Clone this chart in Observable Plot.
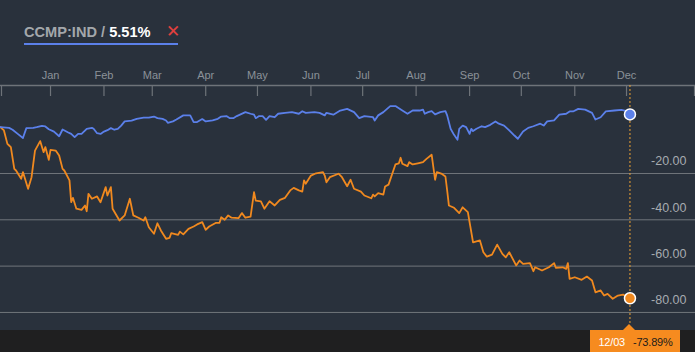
<!DOCTYPE html>
<html>
<head>
<meta charset="utf-8">
<script src="https://cdn.jsdelivr.net/npm/d3@7"></script>
<script src="https://cdn.jsdelivr.net/npm/@observablehq/plot@0.6"></script>
<style>
  html, body { margin: 0; padding: 0; background: #29313c; }
  #wrap { position: relative; width: 695px; height: 352px; background: #29313c; overflow: hidden; font-family: "Liberation Sans", Arial, sans-serif; }
  #band { position: absolute; left: 0; top: 330px; width: 695px; height: 22px; background: #1f1f20; }
  #title { position: absolute; left: 24px; top: 24px; font-size: 14.6px; line-height: 17px; font-weight: bold; white-space: nowrap; }
  #title .sym { color: #a3a7ab; }
  #title .val { color: #ffffff; }
  #title .x { color: #e0403e; font-weight: normal; font-size: 17px; position: absolute; left: 142px; top: -1px; }
  #uline { position: absolute; left: 24px; top: 43px; width: 154px; height: 2px; background: #5b80ea; }
  #chart { position: absolute; left: 0; top: 0; }
  #tip { position: absolute; top: 330px; width: 90px; height: 22px; background: #f68b1f; font-size: 11px; line-height: 24px; white-space: nowrap; letter-spacing: -0.2px; }
  #tip .d { color: #ffffff; margin-left: 8px; }
  #tip .v { color: #1b1b1b; margin-left: 8px; }
  #tri { position: absolute; top: 324px; width: 0; height: 0; border-left: 6px solid transparent; border-right: 6px solid transparent; border-bottom: 6px solid #f68b1f; }
</style>
</head>
<body>
<div id="wrap">
  <div id="band"></div>
  <div id="chart"></div>
  <div id="title"><span class="sym">CCMP:IND / </span><span class="val">5.51%</span><span class="x">✕</span></div>
  <div id="uline"></div>
  <div id="tri"></div>
  <div id="tip"><span class="d">12/03</span><span class="v">-73.89%</span></div>
</div>
<script>
// Percent change since 2014-12-03: NASDAQ Composite (CCMP:IND)
const ccmpSeries = [
  ["2014-12-03",0],["2014-12-08",-0.3],["2014-12-10",-1.1],["2014-12-13",-2.9],["2014-12-16",-4.7],
  ["2014-12-18",-0.4],["2014-12-22",-0.3],["2014-12-24",0],["2014-12-27",0.6],["2014-12-29",0.3],
  ["2014-12-31",-0.9],["2015-01-03",-1.9],["2015-01-06",-3.9],["2015-01-08",-1.0],["2015-01-11",-2.2],
  ["2015-01-13",-2.9],["2015-01-15",-4.3],["2015-01-17",-2.9],["2015-01-19",-2.9],["2015-01-22",-0.7],
  ["2015-01-25",-0.3],["2015-01-26",-0.7],["2015-01-28",-2.6],["2015-01-30",-2.9],["2015-02-01",-1.9],
  ["2015-02-03",-1.3],["2015-02-05",-0.4],["2015-02-07",-1.1],["2015-02-09",-0.7],["2015-02-11",0.7],
  ["2015-02-13",2.5],["2015-02-17",2.8],["2015-02-20",3.6],["2015-02-24",4.1],["2015-02-27",4.1],
  ["2015-03-02",4.6],["2015-03-04",3.9],["2015-03-07",3.6],["2015-03-09",2.9],["2015-03-10",1.9],
  ["2015-03-13",2.5],["2015-03-15",3.3],["2015-03-19",5.1],["2015-03-23",5.1],["2015-03-25",2.2],
  ["2015-03-27",2.2],["2015-03-30",3.5],["2015-04-01",2.5],["2015-04-05",2.9],["2015-04-08",3.6],
  ["2015-04-10",4.6],["2015-04-13",4.8],["2015-04-15",3.9],["2015-04-17",3.9],["2015-04-19",4.8],
  ["2015-04-24",6.5],["2015-04-27",5.8],["2015-04-29",5.4],["2015-04-30",3.9],["2015-05-02",4.8],
  ["2015-05-04",4.8],["2015-05-06",3.2],["2015-05-08",4.8],["2015-05-11",4.3],["2015-05-13",5.8],
  ["2015-05-17",6.2],["2015-05-21",6.5],["2015-05-25",5.8],["2015-05-27",6.9],["2015-05-29",6.2],
  ["2015-06-03",6.5],["2015-06-06",6.2],["2015-06-09",5.1],["2015-06-10",6.2],["2015-06-14",5.4],
  ["2015-06-18",7.2],["2015-06-22",7.9],["2015-06-26",6.5],["2015-06-29",3.9],["2015-07-02",4.8],
  ["2015-07-07",4.3],["2015-07-08",2.9],["2015-07-10",5.1],["2015-07-13",6.5],["2015-07-17",9.1],
  ["2015-07-20",9.1],["2015-07-24",7.2],["2015-07-27",5.8],["2015-07-30",7.2],["2015-08-03",7.2],
  ["2015-08-05",7.6],["2015-08-06",5.8],["2015-08-08",6.5],["2015-08-10",6.9],["2015-08-12",5.5],
  ["2015-08-15",6.5],["2015-08-18",6.9],["2015-08-19",5.1],["2015-08-21",-0.7],["2015-08-23",-3.3],
  ["2015-08-25",-5.4],["2015-08-26",-0.7],["2015-08-28",0.7],["2015-08-30",0],["2015-09-01",-2.9],
  ["2015-09-02",-0.7],["2015-09-03",-1.7],["2015-09-05",-0.7],["2015-09-08",0.4],["2015-09-10",0],
  ["2015-09-13",1.0],["2015-09-16",2.5],["2015-09-18",1.5],["2015-09-21",0.7],["2015-09-24",-1.4],
  ["2015-09-27",-3.6],["2015-09-29",-5.0],["2015-10-02",-1.9],["2015-10-05",-0.3],["2015-10-08",0.4],
  ["2015-10-12",1.5],["2015-10-14",0.7],["2015-10-16",2.5],["2015-10-20",2.9],["2015-10-23",5.4],
  ["2015-10-27",5.8],["2015-10-29",6.8],["2015-10-31",6.8],["2015-11-03",7.9],["2015-11-07",7.6],
  ["2015-11-11",6.2],["2015-11-13",3.3],["2015-11-16",4.3],["2015-11-19",6.8],["2015-11-24",7.2],
  ["2015-11-28",7.5],["2015-11-30",7.2],["2015-12-03",5.51]
];
// Percent change since 2014-12-03: compared stock
const stockSeries = [
  ["2014-12-03",0],["2014-12-05",-1.4],["2014-12-07",-7.2],["2014-12-08",-7.9],["2014-12-09",-8.6],
  ["2014-12-11",-18.0],["2014-12-12",-18.7],["2014-12-15",-22.3],["2014-12-16",-19.4],["2014-12-19",-26.6],
  ["2014-12-21",-21.6],["2014-12-23",-10.1],["2014-12-26",-6.0],["2014-12-28",-10.8],["2014-12-29",-8.6],
  ["2014-12-31",-14.1],["2015-01-01",-9.8],["2015-01-04",-10.1],["2015-01-06",-12.2],["2015-01-08",-18.0],
  ["2015-01-09",-18.7],["2015-01-12",-23.0],["2015-01-13",-32.4],["2015-01-14",-30.5],["2015-01-16",-35.2],
  ["2015-01-19",-35.7],["2015-01-21",-33.8],["2015-01-22",-36.3],["2015-01-23",-28.8],["2015-01-25",-30.9],
  ["2015-01-28",-29.9],["2015-01-30",-32.4],["2015-02-02",-25.9],["2015-02-03",-29.5],["2015-02-05",-25.9],
  ["2015-02-06",-35.2],["2015-02-10",-40.3],["2015-02-13",-38.1],["2015-02-16",-30.9],["2015-02-18",-38.1],
  ["2015-02-21",-39.1],["2015-02-24",-40.3],["2015-02-25",-38.9],["2015-02-27",-43.2],["2015-03-02",-46.0],
  ["2015-03-04",-41.5],["2015-03-06",-44.6],["2015-03-09",-48.2],["2015-03-11",-47.8],["2015-03-12",-45.8],
  ["2015-03-16",-46.5],["2015-03-17",-45.1],["2015-03-19",-46.3],["2015-03-22",-43.9],["2015-03-25",-42.9],
  ["2015-03-27",-42.0],["2015-03-30",-41.0],["2015-04-01",-44.3],["2015-04-03",-42.9],["2015-04-07",-41.3],
  ["2015-04-09",-41.3],["2015-04-10",-38.9],["2015-04-12",-40.0],["2015-04-14",-38.1],["2015-04-16",-39.1],
  ["2015-04-20",-39.3],["2015-04-22",-37.1],["2015-04-24",-39.1],["2015-04-27",-38.6],["2015-04-29",-28.1],
  ["2015-04-30",-31.7],["2015-05-03",-32.0],["2015-05-05",-35.2],["2015-05-08",-32.0],["2015-05-11",-33.8],
  ["2015-05-14",-31.4],["2015-05-17",-30.5],["2015-05-20",-27.3],["2015-05-22",-26.2],["2015-05-25",-27.3],
  ["2015-05-27",-27.8],["2015-05-28",-23.0],["2015-05-29",-24.4],["2015-06-01",-20.9],["2015-06-04",-19.9],
  ["2015-06-08",-19.4],["2015-06-09",-20.9],["2015-06-10",-23.8],["2015-06-12",-21.6],["2015-06-17",-20.1],
  ["2015-06-19",-21.6],["2015-06-22",-25.5],["2015-06-24",-22.7],["2015-06-26",-26.6],["2015-06-30",-27.8],
  ["2015-07-02",-29.5],["2015-07-06",-30.7],["2015-07-07",-29.1],["2015-07-08",-29.9],["2015-07-10",-28.5],
  ["2015-07-13",-29.1],["2015-07-14",-25.6],["2015-07-16",-24.8],["2015-07-20",-16.1],["2015-07-22",-15.6],
  ["2015-07-23",-13.2],["2015-07-24",-15.8],["2015-07-27",-16.8],["2015-07-28",-15.1],["2015-07-30",-16.1],
  ["2015-08-02",-15.6],["2015-08-05",-15.1],["2015-08-07",-13.7],["2015-08-10",-11.9],["2015-08-12",-22.7],
  ["2015-08-13",-19.4],["2015-08-16",-20.2],["2015-08-18",-21.3],["2015-08-19",-27.3],["2015-08-20",-33.8],
  ["2015-08-23",-34.8],["2015-08-26",-37.1],["2015-08-28",-34.6],["2015-08-31",-36.7],["2015-09-03",-49.7],
  ["2015-09-07",-48.9],["2015-09-09",-54.0],["2015-09-11",-55.9],["2015-09-14",-55.0],["2015-09-17",-50.7],
  ["2015-09-20",-54.7],["2015-09-22",-56.2],["2015-09-24",-54.0],["2015-09-28",-59.7],["2015-09-30",-57.6],
  ["2015-10-02",-59.0],["2015-10-06",-58.7],["2015-10-08",-62.2],["2015-10-09",-60.5],["2015-10-13",-61.9],
  ["2015-10-17",-60.5],["2015-10-20",-58.7],["2015-10-21",-60.7],["2015-10-25",-60.5],["2015-10-27",-61.2],
  ["2015-10-28",-58.7],["2015-10-29",-65.5],["2015-11-01",-64.8],["2015-11-05",-65.9],["2015-11-08",-64.5],
  ["2015-11-11",-66.2],["2015-11-13",-71.3],["2015-11-16",-70.5],["2015-11-18",-72.7],["2015-11-20",-72.0],
  ["2015-11-23",-74.1],["2015-11-26",-72.7],["2015-11-29",-72.3],["2015-12-03",-73.89]
];
const monthTicks = ["2015-01-01","2015-02-01","2015-03-01","2015-04-01","2015-05-01","2015-06-01",
  "2015-07-01","2015-08-01","2015-09-01","2015-10-01","2015-11-01","2015-12-01"];
const gridValues = [-20, -40, -60, -80];
const xDomain = ["2014-12-03", "2016-01-10"];
const yDomain = [-87.8, 18];

const parse = (s) => new Date(s + "T00:00:00Z");
const blue = ccmpSeries.map(([d, v]) => ({date: parse(d), value: v}));
const orange = stockSeries.map(([d, v]) => ({date: parse(d), value: v}));
const ticks = monthTicks.map(parse);
const lastBlue = blue[blue.length - 1];
const lastOrange = orange[orange.length - 1];

const BLUE = "#5b80ea", ORANGE = "#f0891f";

const chart = Plot.plot({
  width: 695,
  height: 352,
  marginTop: 85,
  marginBottom: 22,
  marginLeft: 0,
  marginRight: 0,
  style: {background: "transparent", fontFamily: "'Liberation Sans', Arial, sans-serif", overflow: "visible"},
  x: {type: "utc", domain: xDomain.map(parse)},
  y: {domain: yDomain, axis: null},
  marks: [
    Plot.ruleY(gridValues, {stroke: "#70757b", strokeWidth: 1}),
    Plot.ruleY([yDomain[1]], {stroke: "#6e7379", strokeWidth: 1.5}),
    Plot.ruleX(ticks, {stroke: "#6e7379", strokeWidth: 1.2, insetBottom: 234}),
    Plot.ruleX([parse(xDomain[0])], {stroke: "#6e7379", strokeWidth: 1.2, insetBottom: 234, dx: 1}),
    Plot.ruleX([parse(xDomain[1])], {stroke: "#6e7379", strokeWidth: 1.2, insetBottom: 234, dx: -1}),
    Plot.axisX(ticks, {anchor: "top", tickSize: 0, tickPadding: 7, tickFormat: d3.utcFormat("%b"), color: "#8b9199", fontSize: 11}),
    Plot.text(gridValues, {y: (d) => d, text: (d) => d.toFixed(2), frameAnchor: "right", textAnchor: "end", dx: -9, dy: -12, fill: "#a6abb0", fontSize: 12.5}),
    Plot.ruleX([lastOrange.date], {stroke: "#eda234", strokeWidth: 1, strokeDasharray: "2,2", insetBottom: 6}),
    Plot.line(orange, {x: "date", y: "value", stroke: ORANGE, strokeWidth: 1.8}),
    Plot.line(blue, {x: "date", y: "value", stroke: BLUE, strokeWidth: 1.8}),
    Plot.dot([lastBlue], {x: "date", y: "value", r: 5.5, fill: BLUE, stroke: "#ffffff", strokeWidth: 1.5}),
    Plot.dot([lastOrange], {x: "date", y: "value", r: 5.5, fill: ORANGE, stroke: "#ffffff", strokeWidth: 1.5})
  ]
});
document.getElementById("chart").appendChild(chart);

const px = chart.scale("x").apply(lastOrange.date);
document.getElementById("tip").style.left = (px - 39) + "px";
document.getElementById("tri").style.left = (px - 6) + "px";
</script>
</body>
</html>
